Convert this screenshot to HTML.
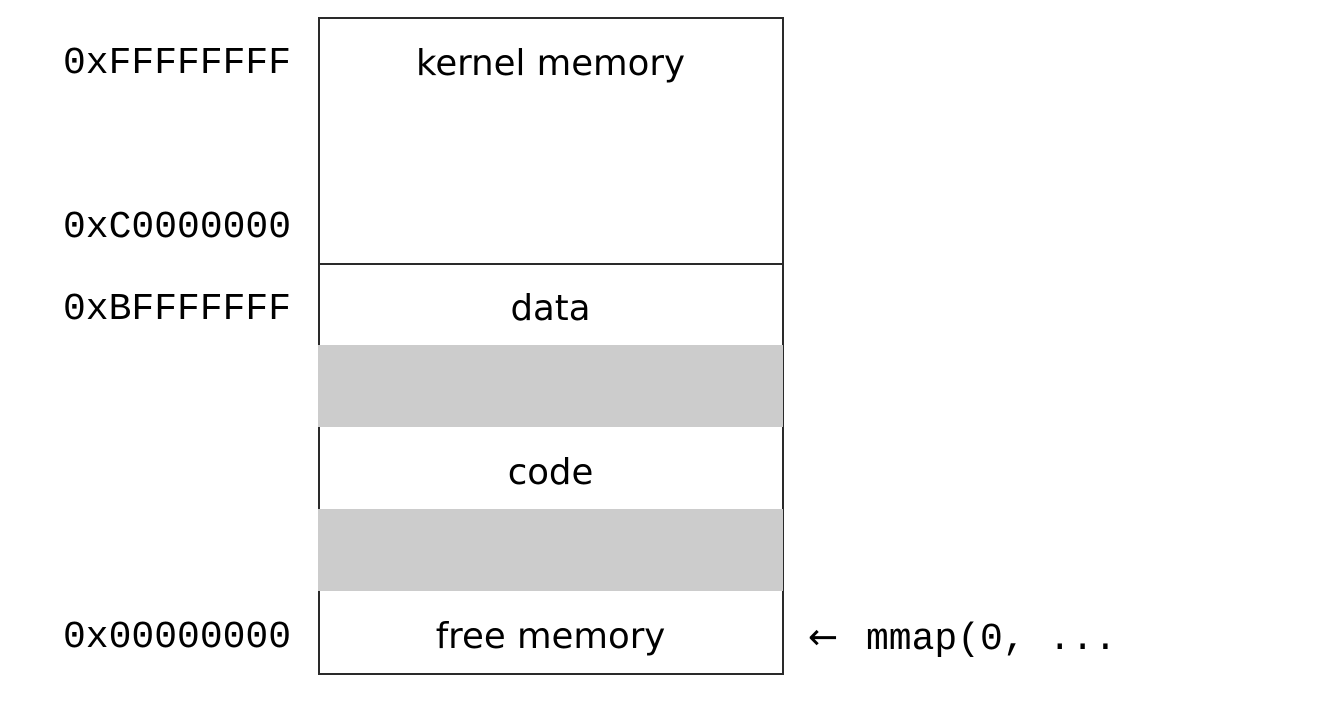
<!DOCTYPE html>
<html><head><style>
body{margin:0;background:#fff;width:1335px;height:706px;position:relative;overflow:hidden}
.box{position:absolute;left:318px;top:17px;width:462px;height:654px;border:2px solid #2a2a2a}
.g{position:absolute;background:#cccccc}
.t{position:absolute;font-family:"DejaVu Sans","Liberation Sans",sans-serif;font-size:35.5px;color:#000;width:465px;left:318px;text-align:center;line-height:40px}
.m{position:absolute;font-family:"Liberation Mono","DejaVu Sans Mono",monospace;font-size:38px;left:63px;line-height:40px;color:#000}
</style></head><body>
<div class="box"></div>
<div style="position:absolute;left:318px;top:263px;width:465px;height:2px;background:#2a2a2a"></div>
<div class="g" style="top:345px;height:82px;left:318px;width:465px"></div>
<div class="g" style="top:509px;height:82px;left:318px;width:465px"></div>
<div class="t" style="top:44px">kernel memory</div>
<div class="t" style="top:289px">data</div>
<div class="t" style="top:453px">code</div>
<div class="t" style="top:617px">free memory</div>
<div class="m" style="top:44px">0xFFFFFFFF</div>
<div class="m" style="top:208px">0xC0000000</div>
<div class="m" style="top:290px">0xBFFFFFFF</div>
<div class="m" style="top:618px">0x00000000</div>
<div class="m" style="left:808px;top:618px"><span style="font-family:'DejaVu Sans',sans-serif;font-size:36px;display:inline-block;width:58px">←</span>mmap(0, ...</div>
</body></html>
